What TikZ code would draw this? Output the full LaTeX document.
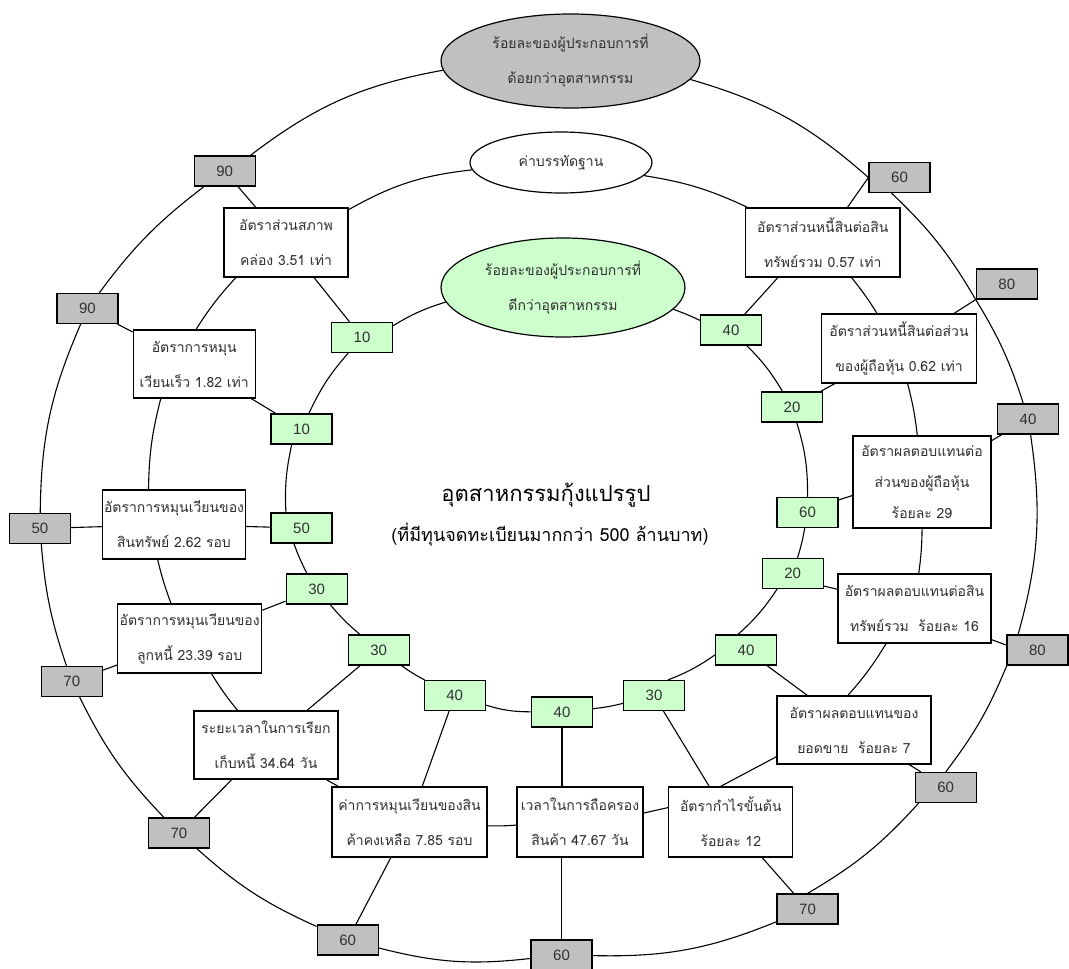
\documentclass[tikz,border=0pt]{standalone}
\usepackage{fontspec}
\setmainfont{Liberation Sans}
\newfontfamily\thaifont[Script=Thai]{Loma}
\usetikzlibrary{shapes.geometric,backgrounds}
\definecolor{boxgrey}{HTML}{C0C0C0}
\definecolor{boxgreen}{HTML}{CCFFCC}
\definecolor{inkgrey}{HTML}{303030}

\tikzset{
  ring/.style={line width=1.1pt, draw=black},
  numbox/.style={draw=black, line width=1.2pt, minimum width=61pt, minimum height=30pt,
    inner sep=0pt, font=\fontsize{15}{15}\selectfont, text=inkgrey},
  lowbox/.style={numbox, fill=boxgrey},
  highbox/.style={numbox, fill=boxgreen},
  ratio/.style={draw=black, line width=1.2pt, fill=white, inner sep=0pt, align=center,
    text=inkgrey, font=\thaifont\fontsize{14}{35}\selectfont},
  oval/.style={ellipse, draw=black, line width=1.2pt, inner sep=0pt, align=center,
    text=inkgrey, font=\thaifont\fontsize{14}{35}\selectfont},
}

\begin{document}
\begin{tikzpicture}[x=1pt,y=-1pt]
\useasboundingbox (0,0) rectangle (1069,969);

% ---------- outer ring: below-industry shares ----------
\node[oval, fill=boxgrey, minimum width=259pt, minimum height=94pt] (worse) at (570.5,61)
  {ร้อยละของผู้ประกอบการที่\\ด้อยกว่าอุตสาหกรรม};
\node[lowbox] (o90a) at (224.6,171) {90};
\node[lowbox] (o90b) at (87.5,308.5) {90};
\node[lowbox] (o50)  at (40,528.5) {50};
\node[lowbox] (o70a) at (71.8,681.5) {70};
\node[lowbox] (o70b) at (179,833) {70};
\node[lowbox] (o60a) at (347.7,940) {60};
\node[lowbox] (o60b) at (561.5,955) {60};
\node[lowbox] (o70c) at (807.5,909) {70};
\node[lowbox] (o60c) at (945.7,787.5) {60};
\node[lowbox] (o80a) at (1037.4,650) {80};
\node[lowbox] (o40)  at (1028,419) {40};
\node[lowbox] (o80b) at (1006.8,284) {80};
\node[lowbox] (o60d) at (899.5,177.5) {60};

% ---------- middle ring: industry norms ----------
\node[oval, fill=white, minimum width=182pt, minimum height=61pt] (norm) at (561,162.5) {ค่าบรรทัดฐาน};
\node[ratio, minimum width=124pt, minimum height=69pt] (r1) at (286,242.5) {อัตราส่วนสภาพ\\คล่อง 3.51 เท่า};
\node[ratio, minimum width=122pt, minimum height=68pt] (r2) at (194.2,364) {อัตราการหมุน\\เวียนเร็ว 1.82 เท่า};
\node[ratio, minimum width=143pt, minimum height=69pt] (r3) at (174,524.5) {อัตราการหมุนเวียนของ\\สินทรัพย์ 2.62 รอบ};
\node[ratio, minimum width=144pt, minimum height=69pt] (r4) at (189.7,638.5) {อัตราการหมุนเวียนของ\\ลูกหนี้ 23.39 รอบ};
\node[ratio, minimum width=144pt, minimum height=68pt] (r5) at (266,745) {ระยะเวลาในการเรียก\\เก็บหนี้ 34.64 วัน};
\node[ratio, minimum width=155pt, minimum height=70pt] (r6) at (409.5,822) {ค่าการหมุนเวียนของสิน\\ค้าคงเหลือ 7.85 รอบ};
\node[ratio, minimum width=126pt, minimum height=70pt] (r7) at (580,822) {เวลาในการถือครอง\\สินค้า 47.67 วัน};
\node[ratio, minimum width=124pt, minimum height=70pt] (r8) at (730.8,822) {อัตรากำไรขั้นต้น\\ร้อยละ 12};
\node[ratio, minimum width=154pt, minimum height=68pt] (r9) at (854,730) {อัตราผลตอบแทนของ\\ยอดขาย\ \ ร้อยละ 7};
\node[ratio, minimum width=153pt, minimum height=69pt] (r10) at (914.5,608.5) {อัตราผลตอบแทนต่อสิน\\ทรัพย์รวม\ \ ร้อยละ 16};
\node[ratio, minimum width=138pt, minimum height=92pt, font=\thaifont\fontsize{14}{31}\selectfont] (r11) at (922,482)
  {อัตราผลตอบแทนต่อ\\ส่วนของผู้ถือหุ้น\\ร้อยละ 29};
\node[ratio, minimum width=154.5pt, minimum height=69pt] (r12) at (899,348.5) {อัตราส่วนหนี้สินต่อส่วน\\ของผู้ถือหุ้น 0.62 เท่า};
\node[ratio, minimum width=154.5pt, minimum height=69pt] (r13) at (822.8,242.5) {อัตราส่วนหนี้สินต่อสิน\\ทรัพย์รวม 0.57 เท่า};

% ---------- inner ring: above-industry shares ----------
\node[oval, fill=boxgreen, minimum width=244pt, minimum height=99pt] (better) at (563,287.5)
  {ร้อยละของผู้ประกอบการที่\\ดีกว่าอุตสาหกรรม};
\node[highbox] (i10a) at (362,337.5) {10};
\node[highbox] (i10b) at (301.5,429) {10};
\node[highbox] (i50)  at (301.5,528) {50};
\node[highbox] (i30a) at (316.7,589) {30};
\node[highbox] (i30b) at (378.6,650) {30};
\node[highbox] (i40a) at (454.7,695.5) {40};
\node[highbox] (i40b) at (562,712) {40};
\node[highbox] (i30c) at (654,695.5) {30};
\node[highbox] (i40c) at (746,650) {40};
\node[highbox] (i20a) at (792.7,573.5) {20};
\node[highbox] (i60)  at (807.5,512.5) {60};
\node[highbox] (i20b) at (792,407) {20};
\node[highbox] (i40d) at (731,330) {40};

% ---------- centre title ----------
\node[font=\thaifont\fontsize{22}{22}\selectfont, text=black] (title) at (546,495) {อุตสาหกรรมกุ้งแปรรูป};
\node[font=\thaifont\fontsize{18}{18}\selectfont, text=black] (subtitle) at (550,535) {(ที่มีทุนจดทะเบียนมากกว่า 500 ล้านบาท)};

\begin{scope}[on background layer]
% outer ring arcs
\draw[ring] (worse) to[bend right=13.5] (o90a);
\draw[ring] (o90a) to[bend right=8] (o90b);
\draw[ring] (o90b) to[bend right=11.4] (o50);
\draw[ring] (o50) to[bend right=7] (o70a);
\draw[ring] (o70a) to[bend right=8.7] (o70b);
\draw[ring] (o70b) to[bend right=8.8] (o60a);
\draw[ring] (o60a) to[bend right=10.4] (o60b);
\draw[ring] (o60b) to[bend right=11.7] (o70c);
\draw[ring] (o70c.north) to[bend right=8.7] (o60c.210);
\draw[ring] (o60c.north) to[bend right=7.3] (o80a.207);
\draw[ring] (o80a.141) to[bend right=11.9] (o40);
\draw[ring] (o40) to[bend right=6.8] (o80b.south west);
\draw[ring] (o80b.south west) to[bend right=8] (o60d.243);
\draw[ring] (o60d.west) to[bend right=12.6] (worse);

% middle ring arcs
\draw[ring] (norm) to[bend right=11.5] (r1);
\draw[ring] (r1.215) to[bend right=5] (r2.87);
\draw[ring] (r2.226) to[bend right=6.7] (r3.126);
\draw[ring] (r3.245) to[bend right=3.4] (r4.118);
\draw[ring] (r4) to[bend right=3.8] (r5);
\draw[ring] (r5) to[bend right=1.6] (r6);
\draw[ring] (r6) to[bend right=2.8] (r7);
\draw[ring] (r7.8) -- (r8.167);
\draw[ring] (r8.106) -- (r9.199);
\draw[ring] (r9.100) to[bend right=5] (r10.231);
\draw[ring] (r10) to[bend right=3.5] (r11);
\draw[ring] (r11) to[bend right=4] (r12);
\draw[ring] (r12) to[bend right=3.6] (r13);
\draw[ring] (r13) to[bend right=8] (norm);

% inner ring arcs
\draw[ring] (better) to[bend right=6.9] (i10a);
\draw[ring] (i10a) to[bend right=8] (i10b);
\draw[ring] (i10b.238) to[bend right=7.5] (i50.135);
\draw[ring] (i50.244) to[bend right=3.6] (i30a.122);
\draw[ring] (i30a) to[bend right=4.7] (i30b);
\draw[ring] (i30b) to[bend right=3.5] (i40a);
\draw[ring] (i40a) to[bend right=8.4] (i40b);
\draw[ring] (i40b) to[bend right=4] (i30c);
\draw[ring] (i30c.48) to[bend right=6.7] (i40c.189);
\draw[ring] (i40c.117) to[bend right=7] (i20a.225);
\draw[ring] (i20a) to[bend right=3.5] (i60);
\draw[ring] (i60) to[bend right=8.6] (i20b);
\draw[ring] (i20b) to[bend right=7] (i40d);
\draw[ring] (i40d) to[bend right=3] (better);

% spokes: each ratio to its above- and below-industry share
\draw[ring] (r1) -- (o90a);  \draw[ring] (r1) -- (i10a);
\draw[ring] (r2) -- (o90b);  \draw[ring] (r2) -- (i10b);
\draw[ring] (r3) -- (o50);   \draw[ring] (r3) -- (i50);
\draw[ring] (r4) -- (o70a);  \draw[ring] (r4) -- (i30a);
\draw[ring] (r5) -- (o70b);  \draw[ring] (r5) -- (i30b);
\draw[ring] (r6) -- (o60a);  \draw[ring] (r6) -- (i40a);
\draw[ring] (i40b) -- (i40b |- r7.north);
\draw[ring] (r7.south -| o60b) -- (o60b);
\draw[ring] (r8) -- (o70c);  \draw[ring] (r8) -- (i30c);
\draw[ring] (r9) -- (o60c);  \draw[ring] (r9) -- (i40c);
\draw[ring] (r10.-22) -- (o80a.171);  \draw[ring] (i20a.-22) -- (r10.166);
\draw[ring] (r11) -- (o40);  \draw[ring] (i60.22) -- (r11.191);
\draw[ring] (r12) -- (o80b.south west);  \draw[ring] (r12) -- (i20b);
\draw[ring] (r13) -- (o60d.west);  \draw[ring] (r13.218) -- (i40d.49);
\end{scope}
\end{tikzpicture}
\end{document}
